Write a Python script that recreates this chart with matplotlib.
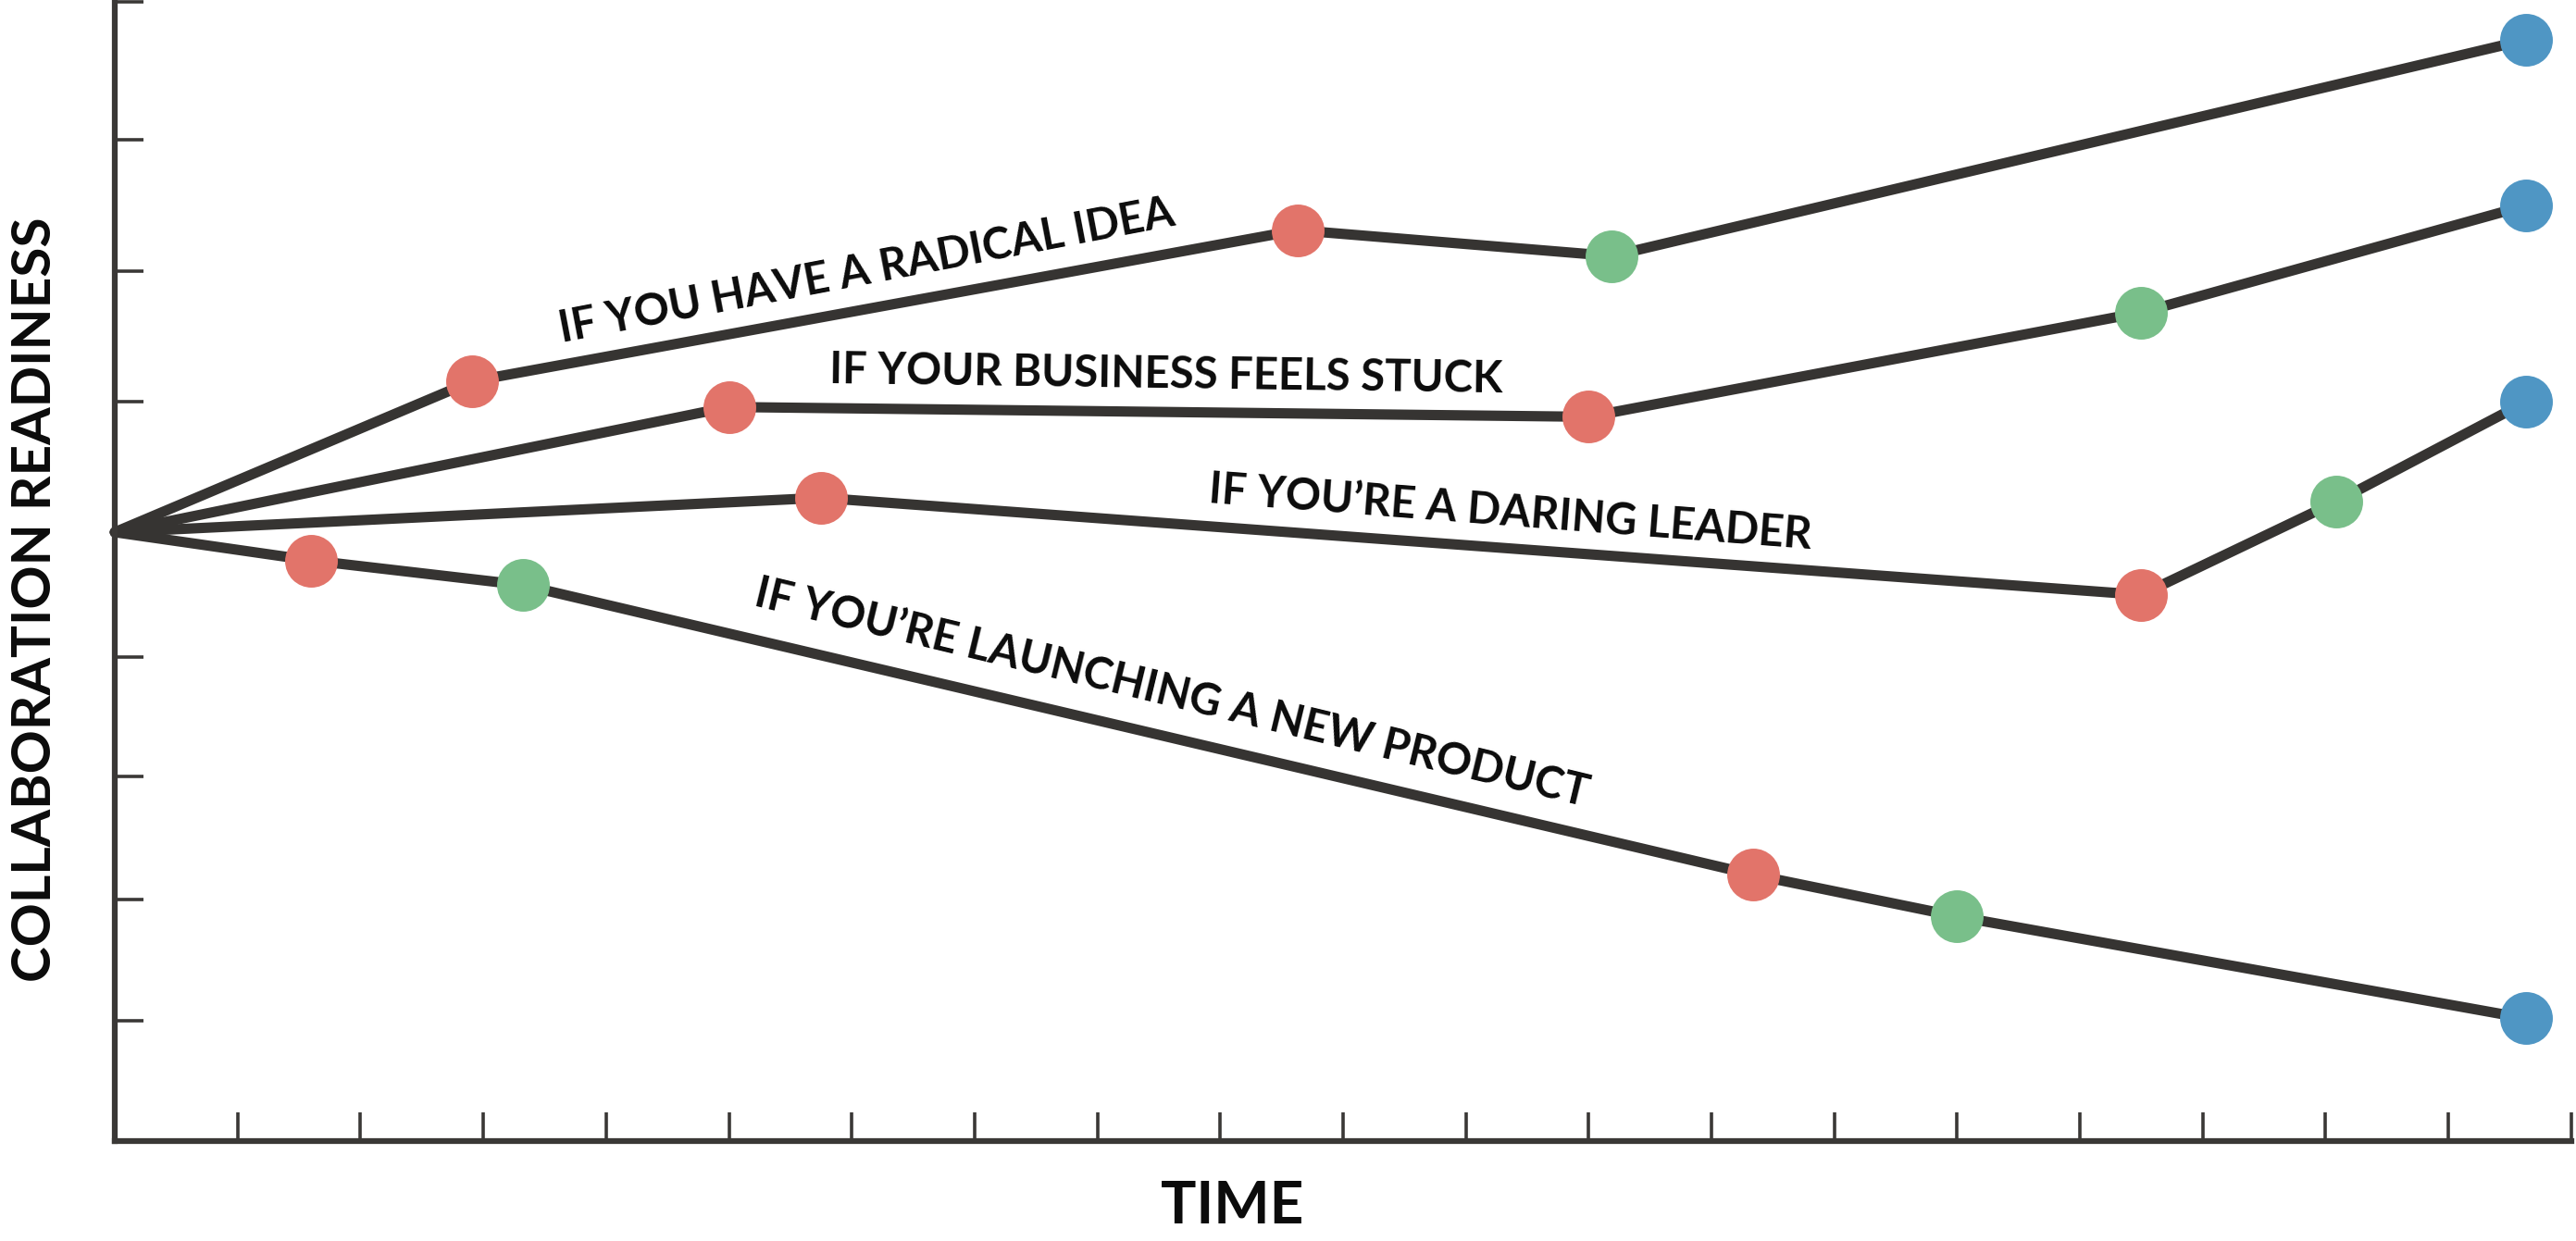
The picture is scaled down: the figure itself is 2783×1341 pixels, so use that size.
import matplotlib
matplotlib.use("Agg")
import matplotlib.pyplot as plt

# ---------------- data ----------------
series_names = [
    "IF YOU HAVE A RADICAL IDEA",
    "IF YOUR BUSINESS FEELS STUCK",
    "IF YOU’RE A DARING LEADER",
    "IF YOU’RE LAUNCHING A NEW PRODUCT",
]
radical_x = [0, 2.91, 9.63, 12.19, 19.63]
radical_y = [4.96, 6.19, 7.42, 7.21, 8.97]
radical_c = [None, "red", "red", "green", "blue"]

stuck_x = [0, 5.0, 12.0, 16.5, 19.63]
stuck_y = [4.96, 5.98, 5.90, 6.75, 7.62]
stuck_c = [None, "red", "red", "green", "blue"]

leader_x = [0, 5.75, 16.5, 18.09, 19.63]
leader_y = [4.96, 5.24, 4.45, 5.21, 6.02]
leader_c = [None, "red", "red", "green", "blue"]

launch_x = [0, 1.60, 3.32, 13.34, 15.0, 19.63]
launch_y = [4.96, 4.73, 4.53, 2.17, 1.83, 1.00]
launch_c = [None, "red", "green", "red", "green", "blue"]

x_ticks = list(range(1, 21))
y_ticks = [0.98, 1.97, 2.97, 3.94, 6.02, 7.09, 8.16, 9.28]

x_label = "TIME"
y_label = "COLLABORATION READINESS"

# ---------------- style ----------------
palette = {"red": "#E2746A", "green": "#79BF8A", "blue": "#4F96C4"}
line_color = "#363432"
plt.rcParams["font.family"] = ["Lato", "DejaVu Sans"]

fig = plt.figure(figsize=(27.83, 13.41), dpi=100)
ax = fig.add_axes([0.0446, 0.0805, 0.9535, 0.918])
ax.set_xlim(0, 20)
ax.set_ylim(0, 9.28)

all_series = [
    (radical_x, radical_y, radical_c),
    (stuck_x, stuck_y, stuck_c),
    (leader_x, leader_y, leader_c),
    (launch_x, launch_y, launch_c),
]
for xs, ys, cs in all_series:
    ax.plot(xs, ys, color=line_color, lw=8, solid_capstyle="round",
            solid_joinstyle="round", zorder=2, clip_on=False)
    for xv, yv, c in zip(xs, ys, cs):
        if c is None:
            continue
        ax.plot([xv], [yv], marker="o", ms=41, mew=0, color=palette[c],
                zorder=3, clip_on=False)

# series labels (positions / rotations are layout)
label_layout = [
    (6.12, 7.09, 10.8),
    (8.56, 6.24, -0.8),
    (11.36, 5.12, -4.4),
    (8.61, 3.65, -13.6),
]
for name, (lx, ly, rot) in zip(series_names, label_layout):
    ax.text(lx, ly, name, rotation=rot, rotation_mode="anchor",
            ha="center", va="center", fontsize=34, fontweight="bold",
            color="#0b0b0b")

# axes styling
for side in ["top", "right"]:
    ax.spines[side].set_visible(False)
for side in ["left", "bottom"]:
    ax.spines[side].set_color("#3a3836")
    ax.spines[side].set_linewidth(4.5)
ax.set_xticks(x_ticks)
ax.set_yticks(y_ticks)
ax.tick_params(axis="both", direction="in", length=22, width=2.6,
               color="#3a3836", labelbottom=False, labelleft=False)

fig.text(1331 / 2783, 1 - 1303 / 1341, x_label, ha="center", va="center",
         fontsize=46, fontweight="bold", color="#0b0b0b")
fig.text(39 / 2783, 1 - 648 / 1341, y_label, ha="center", va="center",
         rotation=90, fontsize=42, fontweight="bold", color="#0b0b0b")

fig.savefig("out.png", dpi=100, facecolor="white")
